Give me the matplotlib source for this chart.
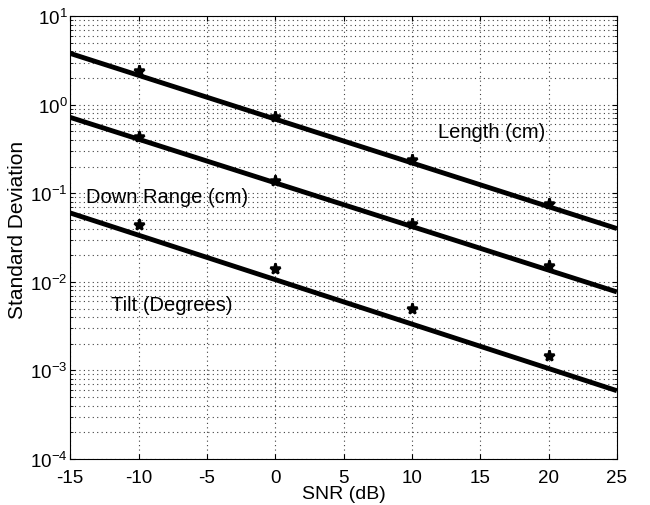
import numpy as np
from matplotlib import pyplot as plt

plt.rcParams['font.family'] = ['Liberation Sans', 'DejaVu Sans']
plt.rcParams['axes.unicode_minus'] = False

snr = [-10, 0, 10, 20]
length_pts = [2.4, 0.72, 0.237, 0.076]
range_pts = [0.43, 0.137, 0.045, 0.015]
tilt_pts = [0.044, 0.014, 0.0049, 0.00144]

# fitted lines, value at -15 dB and at 25 dB
line_x = [-15, 25]
length_line = [3.8, 0.040]
range_line = [0.72, 0.0077]
tilt_line = [0.060, 0.00059]

fig = plt.figure(figsize=(6.5, 5.06), dpi=100)
ax = fig.add_axes([0.108, 0.091, 0.841, 0.875])

for yl in [length_line, range_line, tilt_line]:
    ax.plot(line_x, yl, color="black", lw=3.5, solid_capstyle="butt")
for yp in [length_pts, range_pts, tilt_pts]:
    ax.plot(snr, yp, ls="none", marker="*", ms=8, mew=1.8, color="black")

ax.set_yscale("log")
ax.set_xlim(-15, 25)
ax.set_ylim(1e-4, 1e1)
ax.set_xticks(np.arange(-15, 26, 5))
ax.grid(True, which="major", ls=(0, (1, 3)), color="0.25", lw=0.8)
ax.grid(True, which="minor", ls=(0, (1, 3)), color="0.25", lw=0.8)
ax.tick_params(which="both", direction="in", top=True, right=True, labelsize=13.5)
ax.tick_params(axis="x", pad=7)
ax.tick_params(axis="y", pad=2)

ax.text(15.86, 0.50, "Length (cm)", fontsize=14.5, ha="center", va="center")
ax.text(-7.9, 0.093, "Down Range (cm)", fontsize=14.5, ha="center", va="center")
ax.text(-7.54, 0.0056, "Tilt (Degrees)", fontsize=14.5, ha="center", va="center")

ax.set_xlabel("SNR (dB)", fontsize=14)
ax.set_ylabel("Standard Deviation", fontsize=15)
ax.xaxis.set_label_coords(0.5, -0.078)
ax.yaxis.set_label_coords(-0.097, 0.52)
ax.xaxis.label.set_va("center")
ax.yaxis.label.set_va("center")

fig.savefig("out.png", dpi=100)
